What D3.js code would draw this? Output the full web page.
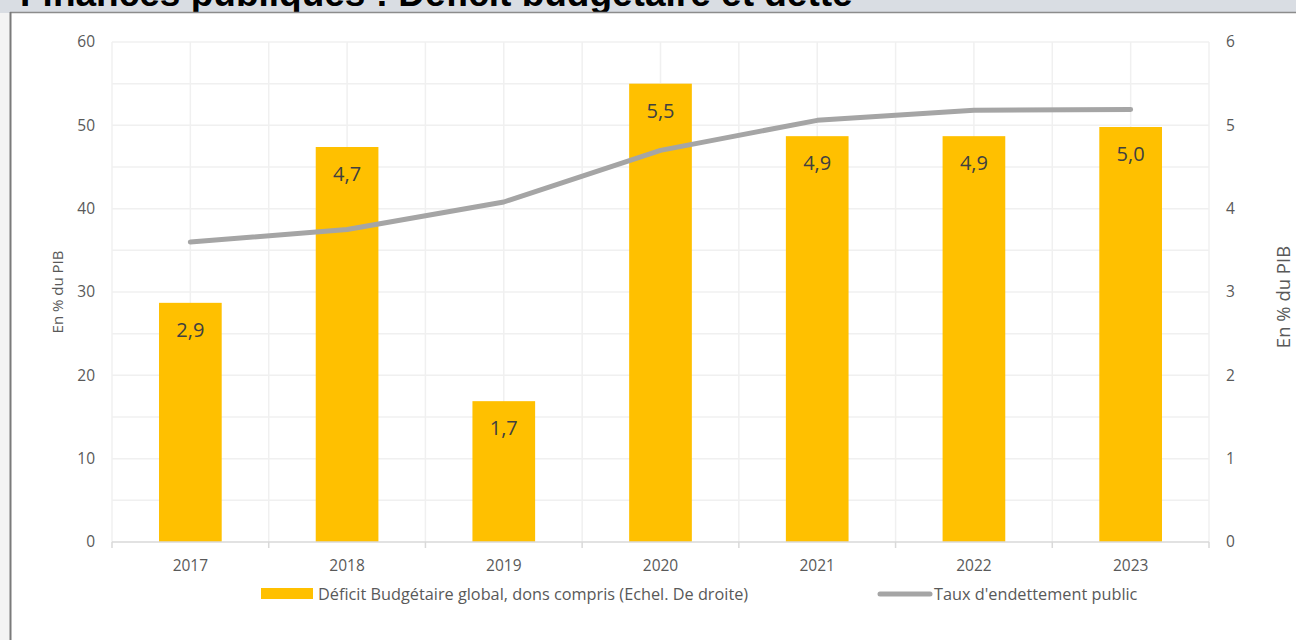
<!DOCTYPE html>
<html><head><meta charset="utf-8">
<script src="https://cdn.jsdelivr.net/npm/d3@7"></script>
<style>
html,body{margin:0;padding:0;background:#fff;}
svg{display:block;font-family:"Open Sans",sans-serif;}
</style></head>
<body>
<svg id="c" width="1296" height="640"></svg>
<script>
const years = ["2017","2018","2019","2020","2021","2022","2023"];
const deficit = [2.87, 4.74, 1.69, 5.50, 4.87, 4.87, 4.98];
const debt = [36.0, 37.5, 40.8, 47.0, 50.6, 51.8, 51.9];
const leftTicks = [0,10,20,30,40,50,60];
const rightTicks = [0,1,2,3,4,5,6];
const titleText = "Finances publiques : Déficit budgétaire et dette";
const yTitle = "En % du PIB";
const legendBar = "Déficit Budgétaire global, dons compris (Echel. De droite)";
const legendLine = "Taux d'endettement public";

const svg = d3.select("#c");
// frame
svg.append("rect").attr("x",0).attr("y",0).attr("width",1296).attr("height",13).attr("fill","#d9dde3");
svg.append("text").attr("x",20).attr("y",6).attr("font-family","'Liberation Sans',Arial,sans-serif")
  .attr("font-weight","bold").attr("font-size",37).attr("fill","#000").text(titleText);
svg.append("rect").attr("x",0).attr("y",13).attr("width",10).attr("height",627).attr("fill","#f3f3f3");
svg.append("rect").attr("x",11).attr("y",13).attr("width",1285).attr("height",627).attr("fill","#fff");
svg.append("line").attr("x1",10).attr("x2",1296).attr("y1",12.5).attr("y2",12.5).attr("stroke","#8c8c8c").attr("stroke-width",1.5);
svg.append("line").attr("x1",10.5).attr("x2",10.5).attr("y1",12).attr("y2",640).attr("stroke","#7a7a7a").attr("stroke-width",2);

const L=112, R=1209, T=42, B=542;
const x = d3.scaleBand().domain(years).range([L,R]).paddingInner(0.6).paddingOuter(0.3);
const xi = d3.scaleLinear().domain([0,years.length]).range([L,R]);
const yL = d3.scaleLinear().domain([0,60]).range([B,T]);
const yR = d3.scaleLinear().domain([0,6]).range([B,T]);

const grid = svg.append("g");
grid.selectAll("line.h").data(d3.range(5,65,5)).join("line")
  .attr("x1",L).attr("x2",R).attr("y1",d=>yL(d)).attr("y2",d=>yL(d))
  .attr("stroke","#f0f0f0").attr("stroke-width",1.5);
grid.selectAll("line.v").data(d3.range(0,years.length+0.5,0.5)).join("line")
  .attr("x1",d=>xi(d)).attr("x2",d=>xi(d)).attr("y1",T).attr("y2",B)
  .attr("stroke","#f0f0f0").attr("stroke-width",1.5);

// bars
svg.append("g").selectAll("rect").data(years).join("rect")
  .attr("x",d=>x(d)).attr("width",x.bandwidth())
  .attr("y",(d,i)=>yR(deficit[i])).attr("height",(d,i)=>B-yR(deficit[i]))
  .attr("fill","#ffc000");

// axis bottom
svg.append("line").attr("x1",L).attr("x2",R).attr("y1",B).attr("y2",B).attr("stroke","#d9d9d9").attr("stroke-width",1.5);
svg.append("g").selectAll("line").data(d3.range(0,years.length+1)).join("line")
  .attr("x1",d=>xi(d)).attr("x2",d=>xi(d)).attr("y1",B).attr("y2",B+6)
  .attr("stroke","#d9d9d9").attr("stroke-width",1.5);

const xAxis = svg.append("g").attr("transform",`translate(0,${B})`)
  .call(d3.axisBottom(x).tickSize(0).tickPadding(18));
xAxis.select(".domain").remove();
xAxis.selectAll("text").attr("font-size",15.5).attr("fill","#595959").attr("font-family","'Open Sans',sans-serif");

const yAxL = svg.append("g").attr("transform",`translate(${L},0)`)
  .call(d3.axisLeft(yL).tickValues(leftTicks).tickFormat(d3.format("d")).tickSize(0).tickPadding(17));
yAxL.select(".domain").remove();
yAxL.selectAll("text").attr("font-size",15.5).attr("fill","#595959").attr("font-family","'Open Sans',sans-serif");

const yAxR = svg.append("g").attr("transform",`translate(${R},0)`)
  .call(d3.axisRight(yR).tickValues(rightTicks).tickFormat(d3.format("d")).tickSize(0).tickPadding(17));
yAxR.select(".domain").remove();
yAxR.selectAll("text").attr("font-size",15.5).attr("fill","#595959").attr("font-family","'Open Sans',sans-serif");

// axis titles
svg.append("text").attr("transform","translate(63,292) rotate(-90)").attr("text-anchor","middle")
  .attr("font-size",15).attr("fill","#595959").text(yTitle);
svg.append("text").attr("transform","translate(1290,297) rotate(-90)").attr("text-anchor","middle")
  .attr("font-size",18.5).attr("fill","#595959").text(yTitle);

// line
const line = d3.line().x((d,i)=>x(years[i])+x.bandwidth()/2).y(d=>yL(d));
svg.append("path").datum(debt).attr("d",line).attr("fill","none")
  .attr("stroke","#a5a5a5").attr("stroke-width",5).attr("stroke-linecap","round").attr("stroke-linejoin","round");

// data labels
const fmt = d3.format(".1f");
svg.append("g").selectAll("text").data(years).join("text")
  .attr("x",d=>x(d)+x.bandwidth()/2).attr("y",(d,i)=>yR(deficit[i])+34)
  .attr("text-anchor","middle").attr("font-size",20).attr("fill","#404040")
  .text((d,i)=>fmt(deficit[i]).replace(".",","));

// legend
const lg = svg.append("g");
lg.append("rect").attr("x",261).attr("y",588).attr("width",52).attr("height",11).attr("fill","#ffc000");
lg.append("text").attr("x",318).attr("y",599.5).attr("font-size",16.3).attr("fill","#595959").text(legendBar);
lg.append("line").attr("x1",880).attr("x2",930).attr("y1",594).attr("y2",594)
  .attr("stroke","#a5a5a5").attr("stroke-width",5).attr("stroke-linecap","round");
lg.append("text").attr("x",934).attr("y",599.5).attr("font-size",16.3).attr("fill","#595959").text(legendLine);
</script>
</body></html>
